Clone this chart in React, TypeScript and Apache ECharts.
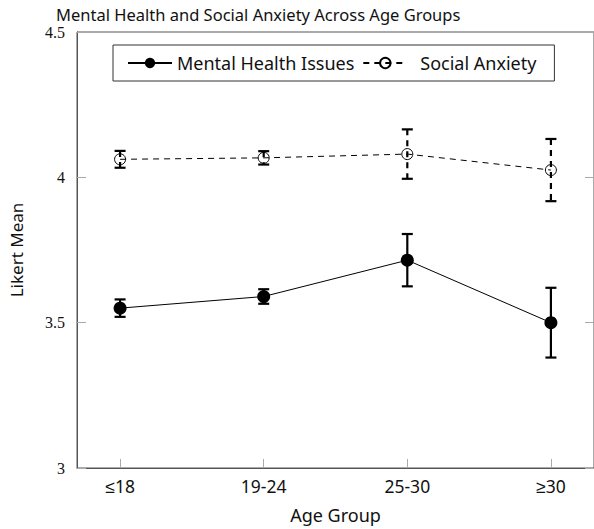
import React, { useEffect, useRef } from "react";
import * as echarts from "echarts";

const categories = ["≤18", "19-24", "25-30", "≥30"];
const mentalHealth = [3.55, 3.59, 3.715, 3.5];
const mentalHealthErr = [0.03, 0.025, 0.09, 0.12];
const socialAnxiety = [4.062, 4.067, 4.08, 4.025];
const socialAnxietyErr = [0.029, 0.023, 0.085, 0.107];
const yTicks = [3, 3.5, 4, 4.5];

const SANS = "'Noto Sans', sans-serif";
const SERIF = "'Liberation Serif', serif";

function errorRenderer(dash: number[] | null) {
  return (params: any, api: any) => {
    const x = api.value(0);
    const lo = api.coord([x, api.value(1)]);
    const hi = api.coord([x, api.value(2)]);
    const hw = 5.5;
    const st = { stroke: "#000", lineWidth: 2.2 } as any;
    const vst = dash ? { ...st, lineDash: dash } : st;
    return {
      type: "group",
      children: [
        { type: "line", shape: { x1: lo[0], y1: hi[1], x2: lo[0], y2: lo[1] }, style: vst },
        { type: "line", shape: { x1: lo[0] - hw, y1: hi[1], x2: lo[0] + hw, y2: hi[1] }, style: st },
        { type: "line", shape: { x1: lo[0] - hw, y1: lo[1], x2: lo[0] + hw, y2: lo[1] }, style: st },
      ],
    };
  };
}

export default function App() {
  const ref = useRef<HTMLDivElement>(null);
  useEffect(() => {
    const chart = echarts.init(ref.current!, null, { renderer: "svg" });
    const idx = [0, 1, 2, 3];
    const mhData = mentalHealth.map((v, i) => [i, v]);
    const saData = socialAnxiety.map((v, i) => [i, v]);
    const mhErr = mentalHealth.map((v, i) => [i, v - mentalHealthErr[i], v + mentalHealthErr[i]]);
    const saErr = socialAnxiety.map((v, i) => [i, v - socialAnxietyErr[i], v + socialAnxietyErr[i]]);
    const axisColor = "#555";
    const tickColor = "#aaa";
    chart.setOption({
      animation: false,
      backgroundColor: "#fff",
      title: {
        text: "Mental Health and Social Anxiety Across Age Groups",
        left: 56,
        top: 5,
        padding: 0,
        textStyle: { fontFamily: SANS, fontSize: 16.5, fontWeight: "normal", color: "#111", lineHeight: 18 },
      },
      legend: {
        data: ["Mental Health Issues", "Social Anxiety"],
        left: 113,
        top: 45,
        padding: [9, 18, 9, 14],
        itemGap: 8,
        itemWidth: 44,
        itemHeight: 13,
        borderColor: "#333",
        borderWidth: 1,
        formatter: (name: string) => (name === "Social Anxiety" ? "{sa|" + name + "}" : name),
        textStyle: {
          fontFamily: SANS,
          fontSize: 18,
          color: "#111",
          rich: { sa: { fontFamily: SANS, fontSize: 18, color: "#111", padding: [0, 0, 0, 8] } },
        },
      },
      grid: {
        left: 73,
        right: -4,
        top: 32,
        bottom: 61,
        show: true,
        borderColor: axisColor,
        borderWidth: 1,
        containLabel: false,
      },
      xAxis: [
        {
          type: "value",
          min: -0.3,
          max: 3.3,
          name: "Age Group",
          nameLocation: "middle",
          nameGap: 38,
          nameTextStyle: { fontFamily: SANS, fontSize: 18, color: "#111" },
          axisLine: { show: true, onZero: false, lineStyle: { color: axisColor } },
          axisTick: { show: true, inside: true, length: 9, customValues: idx, lineStyle: { color: tickColor } },
          axisLabel: {
            customValues: idx,
            formatter: (v: number) => categories[Math.round(v)] ?? "",
            fontFamily: SANS,
            fontSize: 17.5,
            color: "#111",
            margin: 9,
          },
          splitLine: { show: false },
        },
      ],
      yAxis: [
        {
          type: "value",
          min: 3,
          max: 4.5,
          interval: 0.5,
          name: "Likert Mean",
          nameLocation: "middle",
          nameGap: 52,
          nameTextStyle: { fontFamily: SANS, fontSize: 17, color: "#111" },
          axisLine: { show: true, onZero: false, lineStyle: { color: axisColor } },
          axisTick: { show: true, inside: true, length: 9, customValues: yTicks, lineStyle: { color: tickColor } },
          axisLabel: { fontFamily: SERIF, fontSize: 16, color: "#111", margin: 12, customValues: yTicks },
          splitLine: { show: false },
        },
        {
          type: "value",
          position: "right",
          min: 3,
          max: 4.5,
          interval: 0.5,
          axisLine: { show: false, onZero: false },
          axisTick: { show: true, inside: true, length: 9, lineStyle: { color: tickColor } },
          axisLabel: { show: false },
          splitLine: { show: false },
        },
      ],
      series: [
        {
          type: "custom",
          name: "mhErr",
          renderItem: errorRenderer(null),
          data: mhErr,
          encode: { x: 0, y: [1, 2] },
          z: 1,
        },
        {
          type: "custom",
          name: "saErr",
          renderItem: errorRenderer([6, 5]),
          data: saErr,
          encode: { x: 0, y: [1, 2] },
          z: 1,
        },
        {
          type: "line",
          name: "Mental Health Issues",
          data: mhData,
          symbol: "circle",
          symbolSize: 13,
          lineStyle: { color: "#000", width: 1 },
          itemStyle: { color: "#000" },
          z: 3,
        },
        {
          type: "line",
          name: "Social Anxiety",
          data: saData,
          symbol: "circle",
          symbolSize: 11,
          lineStyle: { color: "#000", width: 1, type: [6, 5] },
          itemStyle: { color: "rgba(0,0,0,0)", borderColor: "#000", borderWidth: 1 },
          z: 3,
        },
      ],
    });
    return () => chart.dispose();
  }, []);
  return (
    <div
      ref={ref}
      style={{ position: "fixed", left: 0, top: 0, width: 594, height: 529, background: "#fff" }}
    />
  );
}
